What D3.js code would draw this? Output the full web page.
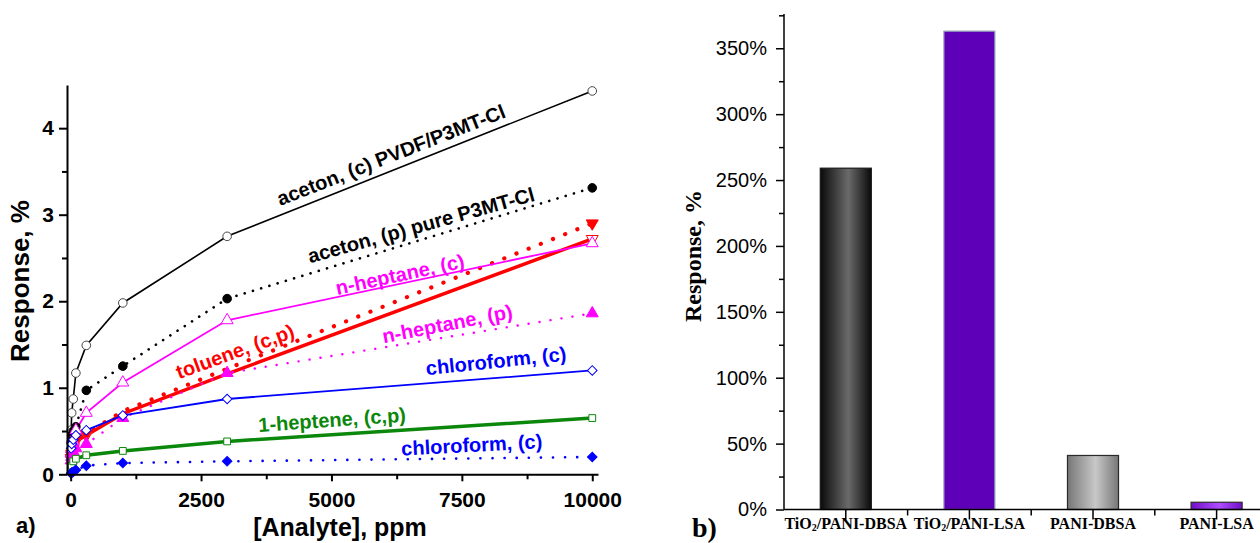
<!DOCTYPE html>
<html>
<head>
<meta charset="utf-8">
<script src="https://cdn.jsdelivr.net/npm/d3@7"></script>
<style>
  body { margin: 0; background: #fff; }
</style>
</head>
<body>
<div id="chart"></div>
<script>
/* panel a) : response vs analyte concentration */
const conc = [10, 20, 50, 100, 300, 1000, 3000, 10000];
const acetonC   = [0.51, 0.71, 0.87, 1.17, 1.49, 1.98, 2.75, 4.43];
const acetonP   = [0.37, 0.45, 0.50, 0.55, 0.97, 1.25, 2.03, 3.31];
const heptaneC  = [0.24, 0.29, 0.38, 0.51, 0.71, 1.06, 1.78, 2.67];
const heptaneP  = [0.16, 0.20, 0.26, 0.30, 0.35, 0.65, 1.17, 1.86];
const tolueneC  = [0.17, 0.22, 0.30, 0.38, 0.45, 0.70, 1.16, 2.72];
const tolueneP  = [0.19, 0.24, 0.32, 0.40, 0.47, 0.73, 1.22, 2.90];
const chloroC   = [0.30, 0.35, 0.40, 0.45, 0.51, 0.68, 0.87, 1.20];
const hepteneCP = [0.04, 0.10, 0.15, 0.18, 0.22, 0.27, 0.38, 0.65];
const chloroP   = [0.01, 0.02, 0.03, 0.05, 0.10, 0.13, 0.15, 0.20];
const xTicksA = [0, 2500, 5000, 7500, 10000];
const yTicksA = [0, 1, 2, 3, 4];

/* panel b) : bar chart */
const materials = ["TiO2/PANI-DBSA", "TiO2/PANI-LSA", "PANI-DBSA", "PANI-LSA"];
const responses = [259, 363, 41, 5.5];
const yTicksB = [0, 50, 100, 150, 200, 250, 300, 350];

var svg = d3.select("#chart").append("svg")
    .attr("width", 1260)
    .attr("height", 543);

var defs = svg.append("defs");
function hGrad(id, edge, mid) {
    var g = defs.append("linearGradient").attr("id", id)
        .attr("x1", "0%").attr("x2", "100%").attr("y1", "0%").attr("y2", "0%");
    g.append("stop").attr("offset", "0%").attr("stop-color", edge);
    g.append("stop").attr("offset", "55%").attr("stop-color", mid);
    g.append("stop").attr("offset", "100%").attr("stop-color", edge);
}
hGrad("gBlack", "#0a0a0a", "#6a6a6a");
hGrad("gGray", "#777777", "#c8c8c8");
hGrad("gPurple", "#7010c8", "#b04cff");

/* ---------------- panel a ---------------- */
var fontA = "'Liberation Sans', Arial, sans-serif";
var x = d3.scaleLinear().domain([-70, 10110]).range([67, 598]);
var y = d3.scaleLinear().domain([0, 4.5]).range([474.3, 84.9]);

/* toluene symbols are hidden under the n-heptane ones in the middle range */
var series = [
    { vals: acetonC,   color: "#000000", width: 1.6, dash: null,      sym: "circle",   open: true,  stroke: "#444" },
    { vals: acetonP,   color: "#000000", width: 2.6, dash: "0.1 8.5", sym: "circle",   open: false },
    { vals: tolueneC,  color: "#ff0000", width: 3.5, dash: null,      sym: "tridown",  open: true,  skip: [1000, 3000] },
    { vals: tolueneP,  color: "#ff0000", width: 4.2, dash: "0.1 13",  sym: "tridown",  open: false, skip: [1000, 3000] },
    { vals: heptaneC,  color: "#ff00ff", width: 1.8, dash: null,      sym: "triangle", open: true },
    { vals: heptaneP,  color: "#ff00ff", width: 2.4, dash: "0.1 11",  sym: "triangle", open: false },
    { vals: chloroC,   color: "#0000ff", width: 1.8, dash: null,      sym: "diamond",  open: true },
    { vals: hepteneCP, color: "#0b870b", width: 3.5, dash: null,      sym: "square",   open: true },
    { vals: chloroP,   color: "#0000ff", width: 2.6, dash: "0.1 12",  sym: "diamond",  open: false }
];

var line = d3.line()
    .x(function(d) { return x(d[0]); })
    .y(function(d) { return y(d[1]); });

series.forEach(function(s) {
    var pts = conc.map(function(c, i) { return [c, s.vals[i]]; });
    svg.append("path")
        .datum(pts)
        .attr("d", line)
        .attr("fill", "none")
        .attr("stroke", s.color)
        .attr("stroke-width", s.width)
        .attr("stroke-linecap", "round")
        .attr("stroke-dasharray", s.dash);
});

function symPath(kind) {
    if (kind == "circle") return d3.symbol().type(d3.symbolCircle).size(58)();
    if (kind == "square") return d3.symbol().type(d3.symbolSquare).size(46)();
    if (kind == "diamond") return d3.symbol().type(d3.symbolSquare).size(46)();
    return d3.symbol().type(d3.symbolTriangle).size(62)();
}
function symRot(kind) {
    if (kind == "diamond") return 45;
    if (kind == "tridown") return 180;
    return 0;
}

series.forEach(function(s) {
    var pts = conc.map(function(c, i) { return [c, s.vals[i]]; })
        .filter(function(d) { return !s.skip || s.skip.indexOf(d[0]) < 0; });
    svg.append("g").selectAll("path")
        .data(pts)
        .enter().append("path")
        .attr("d", symPath(s.sym))
        .attr("transform", function(d) {
            return "translate(" + x(d[0]) + "," + y(d[1]) + ") rotate(" + symRot(s.sym) + ")";
        })
        .attr("fill", s.open ? "#ffffff" : s.color)
        .attr("stroke", s.stroke || s.color)
        .attr("stroke-width", 1);
});

/* axes */
var axX = svg.append("g")
    .attr("transform", "translate(0," + y(0) + ")")
    .call(d3.axisBottom(x).tickValues(xTicksA).tickSize(7).tickSizeOuter(0).tickPadding(11)
        .tickFormat(d3.format("d")));
svg.append("g")
    .attr("transform", "translate(0," + y(0) + ")")
    .call(d3.axisBottom(x).tickValues([1250, 3750, 6250, 8750]).tickSize(5).tickSizeOuter(0).tickFormat(""))
    .select(".domain").remove();
var axY = svg.append("g")
    .attr("transform", "translate(" + x.range()[0] + ",0)")
    .call(d3.axisLeft(y).tickValues(yTicksA).tickSize(8).tickSizeOuter(0).tickPadding(5).tickFormat(d3.format("d")));
svg.append("g")
    .attr("transform", "translate(" + x.range()[0] + ",0)")
    .call(d3.axisLeft(y).tickValues([0.5, 1.5, 2.5, 3.5]).tickSize(5).tickSizeOuter(0).tickFormat(""))
    .select(".domain").remove();

svg.selectAll("g").filter(function() { return this.parentNode === svg.node(); })
    .selectAll(".domain, .tick line")
    .attr("stroke", "#000").attr("stroke-width", 2);
[axX, axY].forEach(function(a) {
    a.selectAll("text")
        .attr("font-family", fontA)
        .attr("font-size", 21)
        .attr("font-weight", "bold")
        .attr("fill", "#000");
});

/* curve labels, anchored in data space */
var curveLabels = [
    { text: "aceton, (c) PVDF/P3MT-Cl", cx: 6142, cy: 3.69, rot: -21.5, color: "#000000" },
    { text: "aceton, (p) pure P3MT-Cl", cx: 6717, cy: 2.88, rot: -15.5, color: "#000000" },
    { text: "n-heptane, (c)",           cx: 6314, cy: 2.31, rot: -12,   color: "#ff00ff" },
    { text: "n-heptane, (p)",           cx: 7220, cy: 1.74, rot: -11,   color: "#ff00ff" },
    { text: "toluene, (c,p)",           cx: 3151, cy: 1.42, rot: -20,   color: "#ff0000" },
    { text: "chloroform, (c)",          cx: 8155, cy: 1.31, rot: -6,    color: "#0000ff" },
    { text: "1-heptene, (c,p)",         cx: 5011, cy: 0.63, rot: -4,    color: "#0b870b" },
    { text: "chloroform, (c)",          cx: 7689, cy: 0.34, rot: -3,    color: "#0000ff" }
];
svg.append("g").selectAll("text")
    .data(curveLabels)
    .enter().append("text")
    .attr("transform", function(d) {
        return "translate(" + x(d.cx) + "," + y(d.cy) + ") rotate(" + d.rot + ")";
    })
    .attr("text-anchor", "middle")
    .attr("dy", "0.35em")
    .attr("font-family", fontA)
    .attr("font-size", 20)
    .attr("font-weight", "bold")
    .attr("fill", function(d) { return d.color; })
    .text(function(d) { return d.text; });

/* titles */
svg.append("text")
    .attr("transform", "translate(29,281) rotate(-90)")
    .attr("text-anchor", "middle")
    .attr("font-family", fontA).attr("font-size", 26).attr("font-weight", "bold")
    .text("Response, %");
svg.append("text")
    .attr("x", 340).attr("y", 536)
    .attr("text-anchor", "middle")
    .attr("font-family", fontA).attr("font-size", 25).attr("font-weight", "bold")
    .text("[Analyte], ppm");
svg.append("text")
    .attr("x", 16).attr("y", 533)
    .attr("font-family", fontA).attr("font-size", 22).attr("font-weight", "bold")
    .text("a)");

/* ---------------- panel b ---------------- */
var fontB = "'Liberation Serif', 'Times New Roman', serif";
var xb = d3.scaleBand().domain(materials).range([784, 1278.4])
    .paddingInner(0.587).paddingOuter(0.2935);
var yb = d3.scaleLinear().domain([0, 376]).range([509.5, 14]);
var fills = ["url(#gBlack)", "#5e00b8", "url(#gGray)", "url(#gPurple)"];
var edges = ["#1a1a1a", "#9aaab8", "#2a2a2a", "#2a2a2a"];

svg.append("g").selectAll("rect")
    .data(materials)
    .enter().append("rect")
    .attr("x", function(d) { return xb(d); })
    .attr("y", function(d, i) { return yb(responses[i]); })
    .attr("width", xb.bandwidth())
    .attr("height", function(d, i) { return yb(0) - yb(responses[i]); })
    .attr("fill", function(d, i) { return fills[i]; })
    .attr("stroke", function(d, i) { return edges[i]; })
    .attr("stroke-width", 1.2);

var axYb = svg.append("g")
    .attr("transform", "translate(784,0)")
    .call(d3.axisLeft(yb).tickValues(yTicksB).tickSize(8).tickSizeOuter(0).tickPadding(9)
        .tickFormat(function(d) { return d + "%"; }));
axYb.select(".domain").attr("d", "M0," + yb(0) + "V" + yb.range()[1]);
var minorB = svg.append("g")
    .attr("transform", "translate(784,0)")
    .call(d3.axisLeft(yb).tickValues(d3.range(25, 376, 50)).tickSize(5).tickFormat(""));
minorB.select(".domain").remove();
minorB.selectAll(".tick line").attr("stroke-width", 1.5);
axYb.selectAll("text")
    .attr("font-family", fontA).attr("font-size", 20).attr("fill", "#000");

/* x axis: long ticks under bars, short ones between */
var axXb = svg.append("g")
    .attr("transform", "translate(0," + yb(0) + ")")
    .call(d3.axisBottom(xb).tickSize(10).tickSizeOuter(0).tickFormat(""));
axXb.select(".domain").attr("d", "M784,0H1260");
svg.append("g")
    .attr("transform", "translate(0," + yb(0) + ")")
    .selectAll("line")
    .data([1, 2, 3])
    .enter().append("line")
    .attr("x1", function(i) { return xb.range()[0] + i * xb.step(); })
    .attr("x2", function(i) { return xb.range()[0] + i * xb.step(); })
    .attr("y1", 0).attr("y2", 6)
    .attr("stroke", "#000").attr("stroke-width", 1.5);
[axYb, axXb].forEach(function(a) {
    a.selectAll(".domain, .tick line").attr("stroke", "#000").attr("stroke-width", 1.5);
});

var catLabels = svg.append("g").selectAll("text")
    .data(materials)
    .enter().append("text")
    .attr("x", function(d) { return xb(d) + xb.bandwidth() / 2; })
    .attr("y", 529)
    .attr("text-anchor", "middle")
    .attr("font-family", fontB).attr("font-size", 16).attr("font-weight", "bold");
catLabels.each(function(d) {
    var t = d3.select(this);
    if (d.indexOf("TiO2") == 0) {
        t.append("tspan").text("TiO");
        t.append("tspan").attr("font-size", 10).attr("dy", 2).text("2");
        t.append("tspan").attr("dy", -2).text(d.slice(4));
    } else {
        t.text(d);
    }
});

svg.append("text")
    .attr("transform", "translate(701,256) rotate(-90)")
    .attr("text-anchor", "middle")
    .attr("font-family", fontB).attr("font-size", 24).attr("font-weight", "bold")
    .text("Response, %");
svg.append("text")
    .attr("x", 692).attr("y", 537)
    .attr("font-family", fontB).attr("font-size", 28).attr("font-weight", "bold")
    .text("b)");
</script>
</body>
</html>
